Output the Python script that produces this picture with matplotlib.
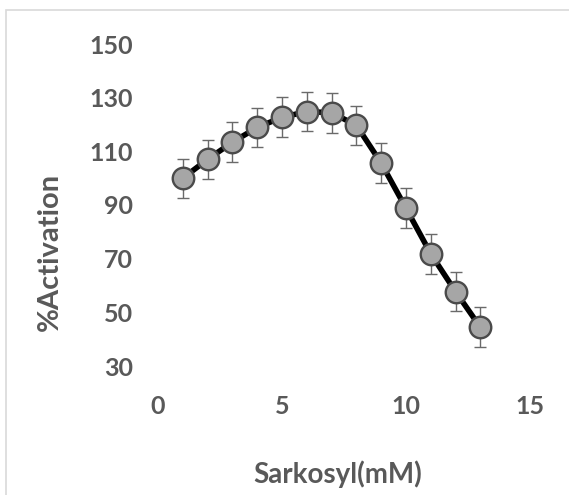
import matplotlib
matplotlib.use('Agg')
import matplotlib.pyplot as plt
from matplotlib.patches import Rectangle

# Data
sarkosyl = [1, 2, 3, 4, 5, 6, 7, 8, 9, 10, 11, 12, 13]
activation = [100, 107, 113.4, 118.9, 122.7, 124.8, 124.4, 119.7, 105.6, 88.8, 71.8, 57.7, 44.4]
errors = [7.3, 7.3, 7.5, 7.3, 7.4, 7.3, 7.5, 7.3, 7.4, 7.4, 7.4, 7.2, 7.5]
x_ticks = [0, 5, 10, 15]
y_ticks = [30, 50, 70, 90, 110, 130, 150]

text_color = '#595959'
plt.rcParams['font.family'] = ['Lato', 'DejaVu Sans']

W, H = 569, 495
fig = plt.figure(figsize=(W / 100, H / 100), dpi=100)
ax = fig.add_axes([158 / W, 1 - 366 / H, (530 - 158) / W, (366 - 44) / H])

# Error bars behind the line and markers
ax.errorbar(sarkosyl, activation, yerr=errors, fmt='none', ecolor='#6a6a6a',
            elinewidth=1, capsize=4.5, capthick=1, zorder=1)
ax.plot(sarkosyl, activation, color='black', linewidth=4, zorder=2)
ax.plot(sarkosyl, activation, linestyle='none', marker='o', markersize=15.5,
        markerfacecolor='#a6a6a6', markeredgecolor='#4a4a4a',
        markeredgewidth=1.7, zorder=3)

ax.set_xlim(0, 15)
ax.set_ylim(30, 150)
ax.set_xticks(x_ticks)
ax.set_yticks(y_ticks)
for s in ax.spines.values():
    s.set_visible(False)
ax.tick_params(axis='both', length=0, labelsize=18, labelcolor=text_color)
ax.tick_params(axis='x', pad=21)
ax.tick_params(axis='y', pad=18)
for lab in ax.get_xticklabels() + ax.get_yticklabels():
    lab.set_fontweight('bold')

fig.text(50 / W, 1 - 252 / H, '%Activation', rotation=90, ha='center', va='center',
         fontsize=21, fontweight='bold', color=text_color)
fig.text(338 / W, 1 - 474 / H, 'Sarkosyl(mM)', ha='center', va='center',
         fontsize=20, fontweight='bold', color=text_color)

# Light chart-area border (left and top visible)
fig.patches.append(Rectangle((6 / W, -0.1), 1.2, 1 - 10 / H + 0.1,
                             transform=fig.transFigure, fill=False,
                             edgecolor='#d9d9d9', linewidth=1.2))

fig.savefig('out.png', dpi=100)
